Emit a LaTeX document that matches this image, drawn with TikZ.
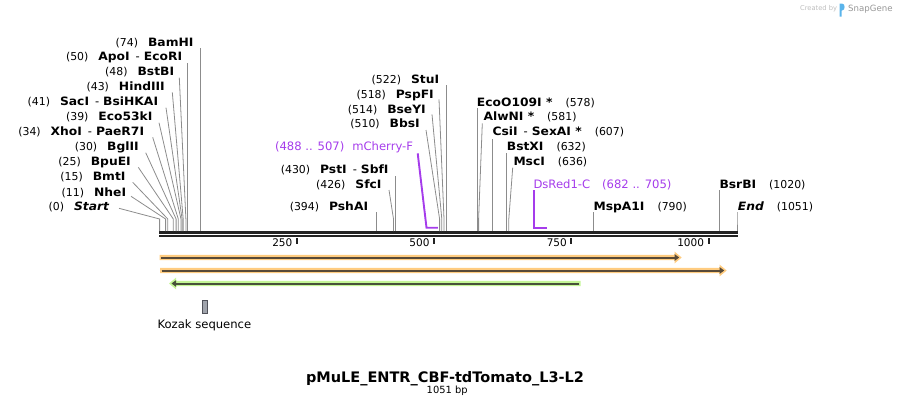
\documentclass[tikz,border=0pt]{standalone}
\usepackage{fontspec}
\newfontfamily\dvs{DejaVu Sans}
\newfontface\dvbx[FakeStretch=1.07]{DejaVu Sans Bold}
\newfontface\dvbix[FakeStretch=1.07]{DejaVu Sans Bold Oblique}
\newfontface\dvbt{DejaVu Sans Bold}
\newcommand\dvb{\fontsize{11.5}{12}\selectfont\dvbx}
\newcommand\dvbi{\fontsize{11.5}{12}\selectfont\dvbix}
\definecolor{seqc}{RGB}{34,34,34}
\definecolor{cutgray}{RGB}{140,140,140}
\definecolor{purp}{RGB}{165,60,235}
\definecolor{orl}{RGB}{255,204,128}
\definecolor{ord}{RGB}{88,74,56}
\definecolor{grl}{RGB}{196,246,150}
\definecolor{grd}{RGB}{72,82,58}
\definecolor{kozf}{RGB}{160,164,172}
\definecolor{kozd}{RGB}{80,82,90}
\definecolor{cby}{RGB}{190,190,190}
\definecolor{sgg}{RGB}{150,150,150}
\definecolor{sgb}{RGB}{90,180,235}
\newcommand\LT[2]{(#1)\hspace{10pt}{\dvb #2}}
\newcommand\RT[2]{{\dvb #1}\hspace{13pt}(#2)}
\newcommand\hy{\hspace{6pt}{\dvs-}\hspace{4pt}}
% id, x, ybase, text, line start x, line start y, position x
\newcommand\EnzL[7]{%
  \node[enzL] (#1) at (#2,#3) {#4};
  \draw[cut] (#5,#6) coordinate (#1-s) -- (#7,219) coordinate (#1-b) -- (#7,231) coordinate (#1-e);
}
\newcommand\EnzR[7]{%
  \node[enzR] (#1) at (#2,#3) {#4};
  \draw[cut] (#5,#6) coordinate (#1-s) -- (#7,219) coordinate (#1-b) -- (#7,231) coordinate (#1-e);
}
% x0, xtip, y, light, dark
\newcommand\FArrowR[5]{%
  \fill[#4] (#1,#3-2.7) -- (#2-7,#3-2.7) -- (#2-7,#3-5.8) -- (#2,#3) -- (#2-7,#3+5.8) -- (#2-7,#3+2.7) -- (#1,#3+2.7) -- cycle;
  \draw[#5, line width=2pt] (#1+1.5,#3) -- (#2-6,#3);
  \fill[#5] (#2-7,#3-3.3) -- (#2-2.5,#3) -- (#2-7,#3+3.3) -- cycle;
}
% xtip, x1, y, light, dark
\newcommand\FArrowL[5]{%
  \fill[#4] (#2,#3-2.7) -- (#1+7,#3-2.7) -- (#1+7,#3-5.8) -- (#1,#3) -- (#1+7,#3+5.8) -- (#1+7,#3+2.7) -- (#2,#3+2.7) -- cycle;
  \draw[#5, line width=2pt] (#2-1.5,#3) -- (#1+6,#3);
  \fill[#5] (#1+7,#3-3.3) -- (#1+2.5,#3) -- (#1+7,#3+3.3) -- cycle;
}
\begin{document}
\begin{tikzpicture}[x=1pt,y=-1pt,
  enzL/.style={anchor=base east, inner sep=0pt, font=\fontsize{10.9}{12}\selectfont\dvs},
  enzR/.style={anchor=base west, inner sep=0pt, font=\fontsize{10.9}{12}\selectfont\dvs},
  featL/.style={anchor=base east, inner sep=0pt, text=purp, font=\fontsize{11.6}{13}\selectfont\dvs},
  featR/.style={anchor=base west, inner sep=0pt, text=purp, font=\fontsize{11.6}{13}\selectfont\dvs},
  cut/.style={draw=cutgray, line width=0.8pt},
  featline/.style={draw=purp, line width=1.9pt},
  seqline/.style={draw=seqc, line width=2.7pt},
  tickmk/.style={draw=seqc, line width=2pt},
  ticklab/.style={anchor=base east, inner sep=0pt, font=\fontsize{10.5}{12}\selectfont\dvs}]
\useasboundingbox (0,0) rectangle (897,407);

% watermark
\node[anchor=base west, inner sep=0pt, text=cby, font=\fontsize{6.7}{8}\selectfont\dvs] (cbytxt) at (800,10.5) {Created by};
\fill[sgb] (839.5,3.5) -- (842,3.5) .. controls (845.5,3.5) and (845.5,10.5) .. (842,10.5) -- (841.6,10.5) -- (841.6,16.5) -- (839.5,16.5) -- cycle;
\node[anchor=base west, inner sep=0pt, text=sgg, font=\fontsize{8.6}{10}\selectfont\dvs] (sgtxt) at (848,11.5) {SnapGene};

% sequence
\coordinate (s0) at (159,232.3);
\coordinate (s1) at (738,232.3);
\coordinate (s2) at (159,236);
\coordinate (s3) at (738,236);
\draw[seqline] (s0) -- (s1);
\draw[seqline] (s2) -- (s3);

% ticks
\foreach \n/\x in {250/296.9,500/434.1,750/571.4,1000/708.6}{
  \draw[tickmk] (\x,238) -- (\x,244.3);
  \node[ticklab] (t\n) at (\x-4.4,246.7) {\n};
}

% left fan
\EnzL{bamhi}{193.7}{46.3}{\LT{74}{BamHI}}{200.2}{48.3}{200.2}
\EnzL{apoi}{182.3}{60.7}{\LT{50}{ApoI\hy EcoRI}}{187.1}{63.3}{187.1}
\EnzL{bstbi}{174.3}{75.7}{\LT{48}{BstBI}}{179.3}{77.7}{185.9}
\EnzL{hind}{165}{90.7}{\LT{43}{HindIII}}{172.3}{92.3}{183.2}
\EnzL{saci}{158.3}{105.7}{\LT{41}{SacI\hy BsiHKAI}}{166}{107.7}{182.1}
\EnzL{ecok}{152.7}{120.7}{\LT{39}{Eco53kI}}{159}{122.7}{181.0}
\EnzL{xhoi}{144.3}{135.3}{\LT{34}{XhoI\hy PaeR7I}}{152.7}{137.3}{178.3}
\EnzL{bglii}{139}{150.7}{\LT{30}{BglII}}{145.7}{152.7}{176.1}
\EnzL{bpuei}{131}{165.7}{\LT{25}{BpuEI}}{138.3}{167.3}{173.3}
\EnzL{bmti}{125.7}{180.7}{\LT{15}{BmtI}}{132.7}{182.3}{167.8}
\EnzL{nhei}{126.3}{196.3}{\LT{11}{NheI}}{131}{196.3}{165.6}
\EnzL{start}{109.3}{210.7}{(0)\hspace{10pt}{\dvbi Start}}{119}{208.3}{159.6}

% middle
\EnzL{stui}{439.3}{83.3}{\LT{522}{StuI}}{446.2}{85}{446.2}
\EnzL{pspfi}{434}{98}{\LT{518}{PspFI}}{439}{99.3}{444.0}
\EnzL{bseyi}{426}{113}{\LT{514}{BseYI}}{432}{114.3}{441.8}
\EnzL{bbsi}{420}{127.3}{\LT{510}{BbsI}}{426}{130}{439.6}
\EnzL{psti}{388.7}{173}{\LT{430}{PstI\hy SbfI}}{395.7}{176}{395.7}
\EnzL{sfci}{381.7}{188}{\LT{426}{SfcI}}{389}{190}{393.5}
\EnzL{pshai}{368.3}{210.7}{\LT{394}{PshAI}}{375.9}{212.3}{375.9}

% right
\EnzR{ecoo}{476.7}{106.3}{\RT{EcoO109I *}{578}}{476.9}{108.3}{476.9}
\EnzR{alwni}{483.3}{120.7}{\RT{AlwNI *}{581}}{482.3}{123.3}{478.6}
\EnzR{csii}{492.3}{135.7}{\RT{CsiI\hy SexAI *}{607}}{492.8}{139}{492.8}
\EnzR{bstxi}{506.7}{150.7}{\RT{BstXI}{632}}{506.6}{153.3}{506.6}
\EnzR{msci}{513.3}{165}{\RT{MscI}{636}}{512.7}{167.7}{508.8}
\EnzR{mspa}{593.3}{210.7}{\RT{MspA1I}{790}}{593.3}{212.3}{593.3}
\EnzR{bsrbi}{719.3}{188.3}{\RT{BsrBI}{1020}}{719.6}{190}{719.6}
\EnzR{end}{737.7}{210.7}{{\dvbi End}\hspace{13pt}(1051)}{737}{212.3}{737}

% primers
\node[featL] (mch) at (413.3,150.5) {(488 .. 507)\hspace{8pt}mCherry-F};
\coordinate (mch-s) at (417.7,153.3);
\coordinate (mch-b) at (426.5,227.7);
\coordinate (mch-e) at (437.9,227.7);
\draw[featline] (mch-s) -- (mch-b) -- (mch-e);
\node[featR] (dsr) at (533.3,188) {DsRed1-C\hspace{12pt}(682 .. 705)};
\coordinate (dsr-s) at (534,190);
\coordinate (dsr-b) at (534,227.7);
\coordinate (dsr-e) at (546.6,227.7);
\draw[featline] (dsr-s) -- (dsr-b) -- (dsr-e);

% features
\FArrowR{159.5}{681.7}{257.5}{orl}{ord}
\FArrowR{160}{726.7}{270.5}{orl}{ord}
\FArrowL{169}{580.7}{283.5}{grl}{grd}

% Kozak
\draw[fill=kozf, draw=kozd, line width=0.7pt] (202,300.5) rectangle (207,313);
\node[anchor=base, inner sep=0pt, font=\fontsize{11.6}{13}\selectfont\dvs] (koz) at (204.4,328.3) {Kozak sequence};

% title
\node[anchor=base, inner sep=0pt, font=\fontsize{14.5}{16}\selectfont\dvbt] (title) at (445,382.5) {pMuLE\_ENTR\_CBF-tdTomato\_L3-L2};
\node[anchor=base, inner sep=0pt, font=\fontsize{9.9}{11}\selectfont\dvs] (bp) at (447.2,393.8) {1051 bp};
\end{tikzpicture}
\end{document}
